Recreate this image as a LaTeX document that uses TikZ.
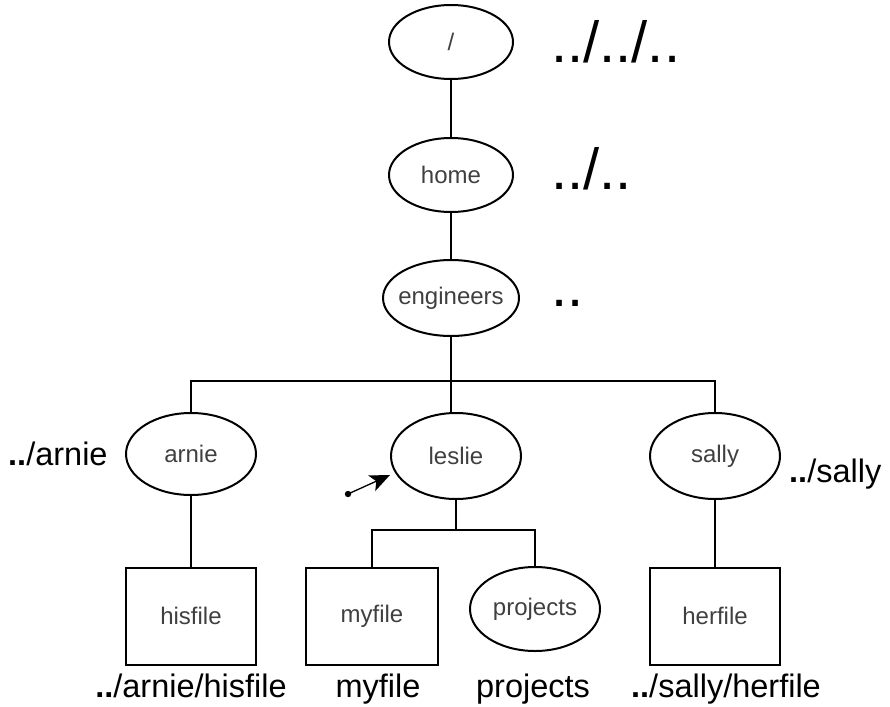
\documentclass[tikz,border=0pt]{standalone}
\usepackage{fontspec}
\setmainfont{Liberation Sans}
\usetikzlibrary{shapes.geometric,arrows.meta}
\definecolor{nodetext}{HTML}{404040}
\tikzset{
  dirnode/.style={draw, ellipse, line width=2pt, inner xsep=-16pt, inner ysep=-4pt,
    text=nodetext, font=\fontsize{24}{24}\selectfont},
  filenode/.style={draw, rectangle, line width=2pt, inner sep=0pt,
    text=nodetext, font=\fontsize{24}{24}\selectfont},
  conn/.style={line width=2pt},
  biglabel/.style={anchor=base west, inner sep=0pt, font=\fontsize{58}{58}\selectfont},
  pathlabel/.style={inner sep=0pt, font=\fontsize{32.5}{33}\selectfont},
}
\newcommand{\dd}{\textbf{..}}
\begin{document}
\begin{tikzpicture}[x=1pt,y=-1pt]
\useasboundingbox (0,0) rectangle (890,706);
% directory nodes
\node[dirnode, minimum width=124pt, minimum height=74pt] (root) at (451,42) {/};
\node[dirnode, minimum width=124pt, minimum height=74pt] (home) at (451,175) {home};
\node[dirnode, minimum width=136pt, minimum height=76pt] (eng) at (451,298) {engineers};
\node[dirnode, minimum width=130pt, minimum height=82pt] (arnie) at (191,454) {arnie};
\node[dirnode, minimum width=130pt, minimum height=86pt] (leslie) at (456,456) {leslie};
\node[dirnode, minimum width=130pt, minimum height=86pt] (sally) at (715,456) {sally};
\node[dirnode, minimum width=130pt, minimum height=84pt] (projects) at (535,609) {projects};
% file nodes
\node[filenode, minimum width=130pt, minimum height=97pt] (hisfile) at (191,616) {hisfile};
\node[filenode, minimum width=132pt, minimum height=97pt] (myfile) at (372,616) {myfile};
\node[filenode, minimum width=130pt, minimum height=97pt] (herfile) at (715,616) {herfile};
% connectors
\coordinate (bus) at (451,381);
\coordinate (sub) at (456,530);
\draw[conn] (root) -- (home);
\draw[conn] (home) -- (eng);
\draw[conn] (eng.south) -- (bus);
\draw[conn] (arnie.north) |- (bus) -| (sally.north);
\draw[conn] (bus) -- (bus |- leslie.north);
\draw[conn] (arnie) -- (hisfile);
\draw[conn] (sally) -- (herfile);
\draw[conn] (leslie.south) -- (sub);
\draw[conn] (myfile.north) |- (sub) -| (projects.north);
% current-directory arrow
\coordinate (dot) at (348,494);
\coordinate (tip) at (390,475);
\fill (dot) circle (3.2pt);
\draw[line width=1.3pt, -{Stealth[length=20pt,width=17pt,inset=5pt]}] (dot) -- (tip);
% relative path labels
\node[biglabel] (l1) at (551,63) {../../..};
\node[biglabel] (l2) at (551,189) {../..};
\node[biglabel] (l3) at (551,306) {..};
\node[pathlabel, anchor=base west] (l4) at (8,465) {\dd/arnie};
\node[pathlabel, anchor=base west] (l5) at (789,482) {\dd/sally};
\node[pathlabel, anchor=base] (l6) at (191,697) {\dd/arnie/hisfile};
\node[pathlabel, anchor=base] (l7) at (378,697) {myfile};
\node[pathlabel, anchor=base] (l8) at (533,697) {projects};
\node[pathlabel, anchor=base] (l9) at (726,697) {\dd/sally/herfile};
\end{tikzpicture}
\end{document}
